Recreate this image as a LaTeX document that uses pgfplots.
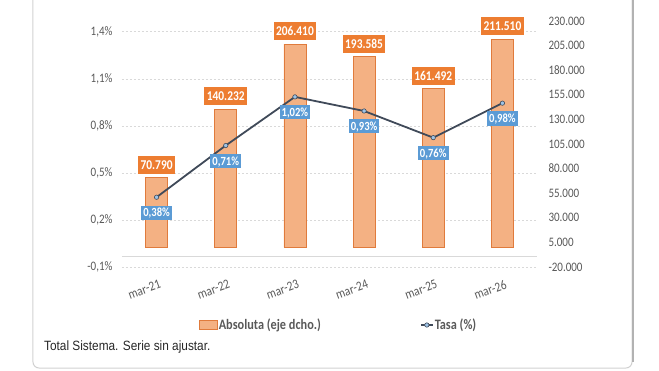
\documentclass[border=0pt]{standalone}
\usepackage{pgfplots}
\pgfplotsset{compat=1.18}
\usepackage{fontspec}
\setmainfont{Carlito}[FakeStretch=0.85]
\newfontfamily\capfont{Liberation Sans}[FakeStretch=0.88]

\definecolor{tickc}{HTML}{595959}
\definecolor{gridc}{HTML}{D9D9D9}
\definecolor{barfill}{HTML}{F4B183}
\definecolor{bardraw}{HTML}{E07B3C}
\definecolor{labor}{HTML}{ED7D31}
\definecolor{labbl}{HTML}{5B9BD5}
\definecolor{linec}{HTML}{404A59}

\pgfplotsset{
  common/.style={scale only axis, width=415bp, height=246bp, xmin=-0.5, xmax=5.5,
    axis line style={draw=none}, major tick length=0pt,
    tick label style={font=\fontsize{13}{14}\selectfont, text=tickc}},
  barlegend/.style={legend image code/.code={\draw[##1] (0bp,-4.5bp) rectangle (18bp,4.5bp);}},
  linelegend/.style={legend image code/.code={\draw[mark repeat=2,mark phase=2,##1] plot coordinates {(0bp,0bp) (6bp,0bp) (12bp,0bp)};}},
}

\begin{document}
\begin{tikzpicture}
% card frame
\draw[black!18, line width=1bp, rounded corners=6bp] (-89bp,267bp) -- (-89bp,-101bp) -- (510bp,-101bp) -- (510bp,267bp);
\draw[black!30, line width=1.6bp] (511bp,267bp) -- (511bp,-95bp);

% left axis: grid and labels
\begin{axis}[common, ymin=-0.065, ymax=1.504,
  ytick={-0.065,0.235,0.535,0.835,1.135,1.435},
  yticklabels={{-0,1\%},{0,2\%},{0,5\%},{0,8\%},{1,1\%},{1,4\%}},
  ymajorgrids, major grid style={gridc, dash pattern=on 2bp off 2bp, line width=0.7bp},
  xtick={0,1,2,3,4,5},
  xticklabels={mar-21,mar-22,mar-23,mar-24,mar-25,mar-26},
  xticklabel style={rotate=20, anchor=north east, yshift=-9bp, xshift=1bp, font=\fontsize{13.5}{14}\selectfont},
  yticklabel style={xshift=-6bp},
]
\draw[gridc, line width=1.2bp] (axis cs:-0.5,0) -- (axis cs:5.5,0);
\end{axis}

% right axis: bars
\begin{axis}[common, ymin=-20000, ymax=230000, scaled y ticks=false,
  yticklabel pos=right, xtick=\empty,
  ytick={-20000,5000,30000,55000,80000,105000,130000,155000,180000,205000,230000},
  yticklabels={-20.000,5.000,30.000,55.000,80.000,105.000,130.000,155.000,180.000,205.000,230.000},
  yticklabel style={anchor=west, xshift=8bp},
  ybar, bar width=22bp,
]
\addplot[fill=barfill, draw=bardraw, line width=0.8bp,
  nodes near coords, point meta=explicit symbolic,
  every node near coord/.append style={fill=labor, text=white,
    font=\bfseries\fontsize{13.5}{14}\selectfont, anchor=south, yshift=3.5bp,
    inner xsep=2.5bp, inner ysep=4.5bp, text height=9bp, text depth=0bp}]
coordinates {(0,70790)[70.790] (1,140232)[140.232] (2,206410)[206.410]
             (3,193585)[193.585] (4,161492)[161.492] (5,211510)[211.510]};
\end{axis}

% left axis: line and legend
\begin{axis}[common, hide axis, ymin=-0.065, ymax=1.504,
  legend columns=2, legend cell align=left,
  legend style={at={(0.1855,-0.2358)}, anchor=west, draw=none, fill=none,
    inner sep=0pt, outer sep=0pt, nodes={inner sep=1bp},
    font=\bfseries\fontsize{14.5}{16}\selectfont, text=tickc,
    /tikz/every even column/.append style={column sep=98bp}},
]
\addlegendimage{barlegend, fill=barfill, draw=bardraw, line width=0.8bp}
\addlegendentry{Absoluta (eje dcho.)}
\addplot[linelegend, linec, line width=1.8bp, mark=*, mark size=2.2bp,
  mark options={fill=labbl!60!white, draw=linec, line width=0.6bp},
  nodes near coords, point meta=explicit symbolic,
  every node near coord/.append style={fill=labbl, text=white,
    font=\bfseries\fontsize{12.5}{13}\selectfont, anchor=north, yshift=-8bp,
    inner xsep=2bp, inner ysep=2.8bp, text height=8.5bp, text depth=0bp}]
coordinates {(0,0.38)[0,38\%] (1,0.71)[0,71\%] (2,1.02)[1,02\%]
             (3,0.93)[0,93\%] (4,0.76)[0,76\%] (5,0.98)[0,98\%]};
\addlegendentry{Tasa (\%)}
\end{axis}

\node[anchor=west, inner sep=0pt, font=\capfont\fontsize{13.5}{15}\selectfont, text=black!85]
  at (-78bp,-79.7bp) {Total Sistema. Serie sin ajustar.};

\pgfresetboundingbox
\useasboundingbox (-122bp,-104bp) rectangle (537bp,267bp);
\end{tikzpicture}
\end{document}
